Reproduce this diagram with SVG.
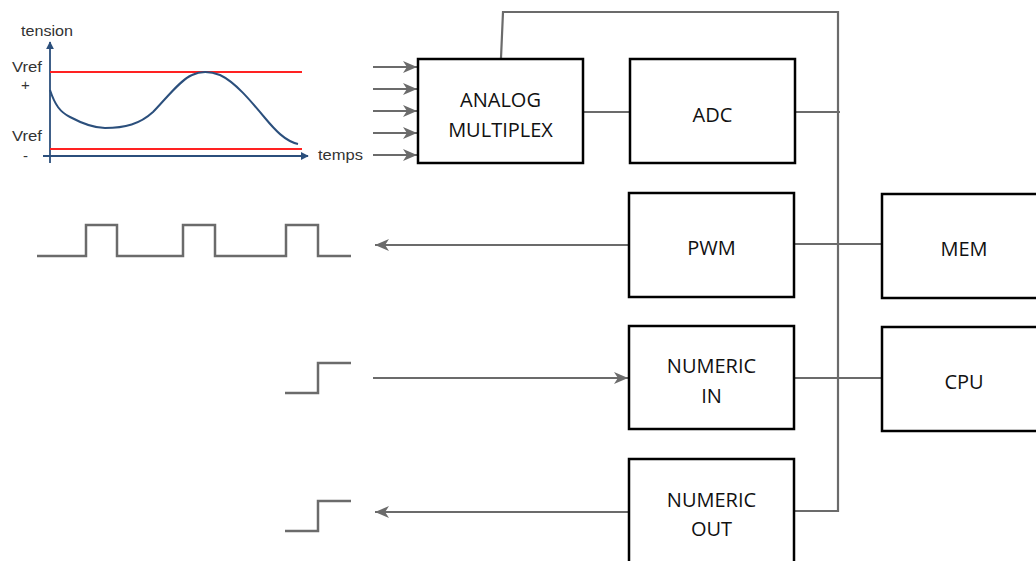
<svg xmlns="http://www.w3.org/2000/svg" width="1036" height="561" viewBox="0 0 1036 561">
<defs>
<marker id="ah" viewBox="0 0 10 10" refX="10" refY="5" markerWidth="14" markerHeight="14" markerUnits="userSpaceOnUse" orient="auto">
<path d="M0,0.8 L10,5 L0,9.2 L2.8,5 Z" fill="#6b6b6b"/>
</marker>
<marker id="ab" viewBox="0 0 10 10" refX="9" refY="5" markerWidth="8" markerHeight="8" markerUnits="userSpaceOnUse" orient="auto">
<path d="M0,0 L10,5 L0,10 Z" fill="#2b4f7c"/>
</marker>
<style>
.box{fill:#fff;stroke:#000;stroke-width:2.5}
.lbl{font-family:"Open Sans","Liberation Sans",sans-serif;font-size:20px;fill:#111;text-anchor:middle}
.con{fill:none;stroke:#6b6b6b;stroke-width:2.2}
.arr{fill:none;stroke:#6b6b6b;stroke-width:2.2;marker-end:url(#ah)}
.sig{fill:none;stroke:#6b6b6b;stroke-width:2.5}
.ax{fill:none;stroke:#2b4f7c;stroke-width:1.8;marker-end:url(#ab)}
.ct{font-family:"Liberation Sans",Arial,sans-serif;font-size:15px;fill:#333}
</style>
</defs>
<rect width="1036" height="561" fill="#fff"/>
<g id="chart">
<line class="ax" x1="50" y1="163" x2="50" y2="42"/>
<line class="ax" x1="43" y1="156" x2="308" y2="156"/>
<line x1="50" y1="72" x2="302" y2="72" stroke="#f22" stroke-width="2"/>
<line x1="50" y1="149" x2="302" y2="149" stroke="#f22" stroke-width="2"/>
<path d="M50,90 C55,105 60,112 70,117 C85,125 95,128 105,128 C125,128 140,124 153,112 C165,100 180,80 192,75 C200,71 210,71 220,75 C235,82 250,100 265,118 C275,130 285,141 298,144" fill="none" stroke="#2b4f7c" stroke-width="2"/>
<text class="ct" x="21" y="36" textLength="52" lengthAdjust="spacingAndGlyphs" font-size="16">tension</text>
<text class="ct" x="12" y="72" textLength="30" lengthAdjust="spacingAndGlyphs">Vref</text>
<text class="ct" x="21" y="90">+</text>
<text class="ct" x="12" y="141" textLength="30" lengthAdjust="spacingAndGlyphs">Vref</text>
<text class="ct" x="23" y="161">-</text>
<text class="ct" x="318" y="160" textLength="45" lengthAdjust="spacingAndGlyphs" font-size="16">temps</text>
</g>
<g id="signals">
<path class="sig" d="M37,256 H86 V225 H117 V256 H183 V225 H215 V256 H286 V225 H318 V256 H351"/>
<path class="sig" d="M285,393 H318 V363 H351"/>
<path class="sig" d="M285,531 H318 V501 H351"/>
</g>
<g id="connectors">
<line class="arr" x1="373" y1="67" x2="417" y2="67"/>
<line class="arr" x1="373" y1="89" x2="417" y2="89"/>
<line class="arr" x1="373" y1="111" x2="417" y2="111"/>
<line class="arr" x1="373" y1="133" x2="417" y2="133"/>
<line class="arr" x1="373" y1="155" x2="417" y2="155"/>
<polyline class="con" points="501,58 503,12 838,12 838,511 794,511"/>
<line class="con" x1="583" y1="112" x2="630" y2="112"/>
<line class="con" x1="795" y1="112" x2="840" y2="112"/>
<line class="con" x1="794" y1="244" x2="882" y2="244"/>
<line class="con" x1="794" y1="378" x2="882" y2="378"/>
<line class="arr" x1="629" y1="245" x2="375" y2="245"/>
<line class="arr" x1="373" y1="378" x2="628" y2="378"/>
<line class="arr" x1="629" y1="512" x2="375" y2="512"/>
</g>
<g id="mux"><rect class="box" x="418" y="59" width="165" height="104"/><text class="lbl" x="500.5" y="107">ANALOG</text><text class="lbl" x="500.5" y="137">MULTIPLEX</text></g>
<g id="adc"><rect class="box" x="630" y="59" width="165" height="104"/><text class="lbl" x="712.5" y="122">ADC</text></g>
<g id="pwm"><rect class="box" x="629" y="193" width="165" height="104"/><text class="lbl" x="711.5" y="255">PWM</text></g>
<g id="mem"><rect class="box" x="882" y="194" width="165" height="104"/><text class="lbl" x="964" y="256">MEM</text></g>
<g id="numin"><rect class="box" x="629" y="326" width="165" height="103"/><text class="lbl" x="711.5" y="373">NUMERIC</text><text class="lbl" x="711.5" y="403">IN</text></g>
<g id="cpu"><rect class="box" x="882" y="327" width="165" height="104"/><text class="lbl" x="964" y="389">CPU</text></g>
<g id="numout"><rect class="box" x="629" y="459" width="165" height="104"/><text class="lbl" x="711.5" y="507">NUMERIC</text><text class="lbl" x="711.5" y="536">OUT</text></g>
</svg>
